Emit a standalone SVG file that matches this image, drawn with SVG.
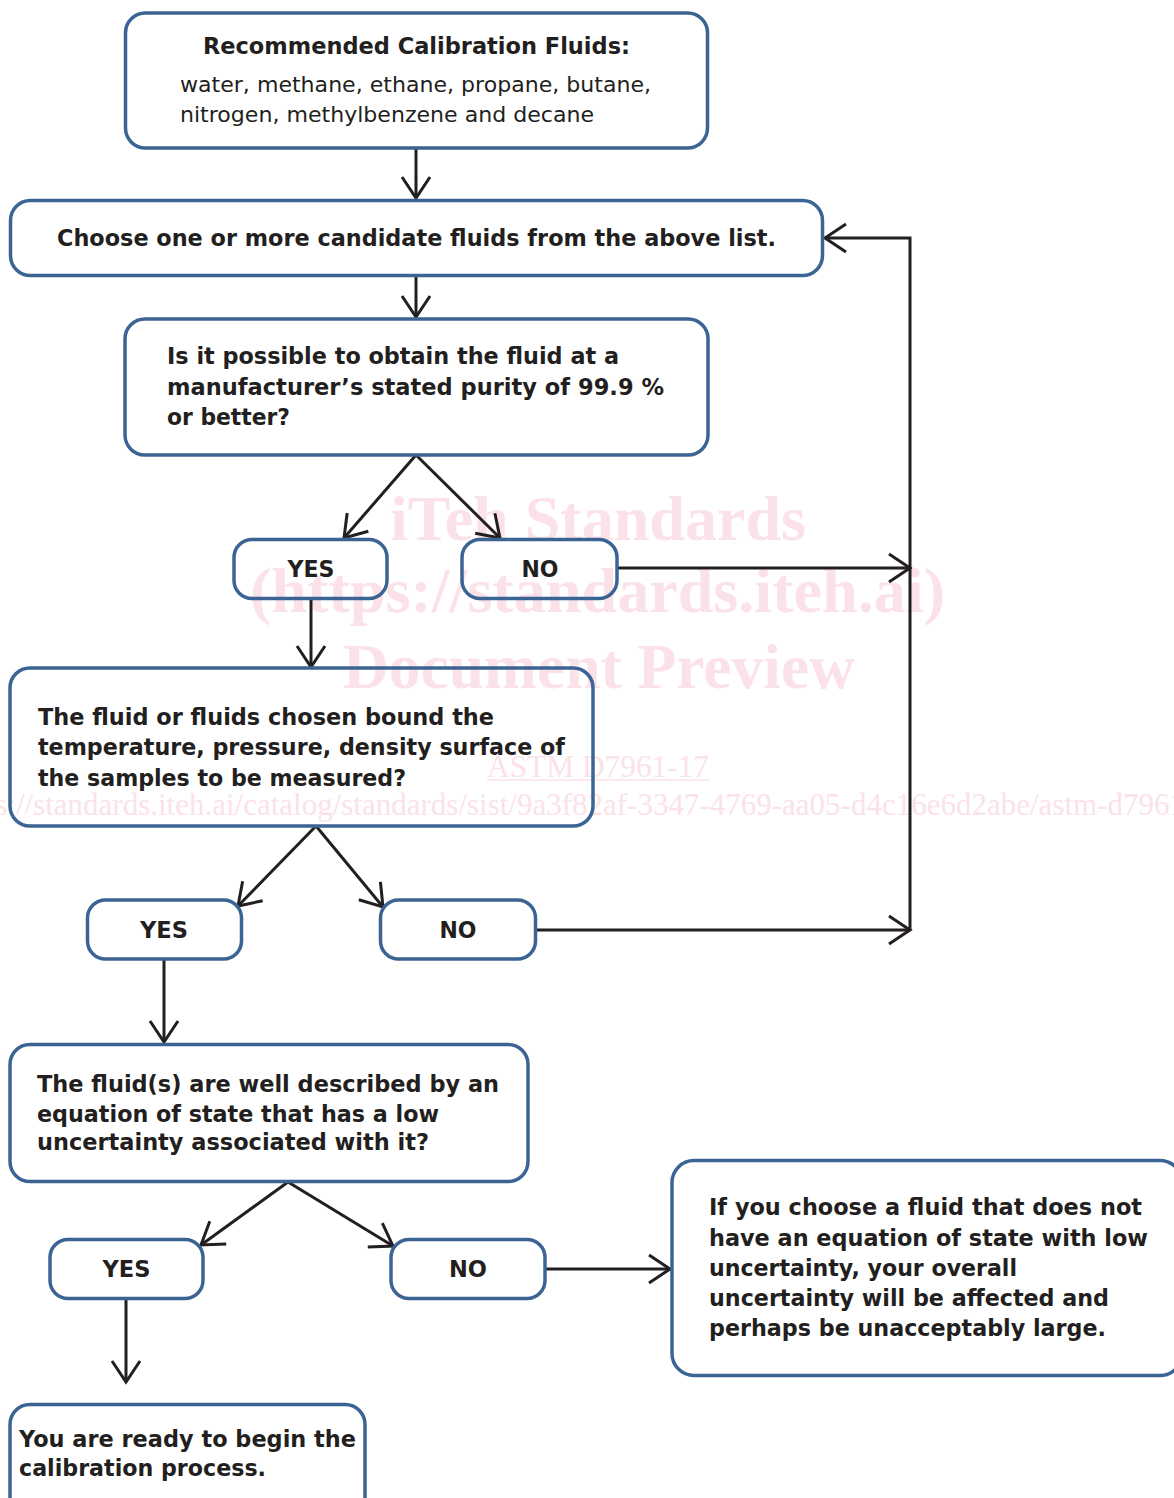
<svg xmlns="http://www.w3.org/2000/svg" width="1174" height="1498" viewBox="0 0 1174 1498">
<defs>
<style>
.box{fill:none;stroke:#3b6494;stroke-width:3.5}
.b{font-family:"DejaVu Sans","Liberation Sans",sans-serif;font-weight:bold;font-size:22.5px;fill:#231f20}
.r{font-family:"DejaVu Sans","Liberation Sans",sans-serif;font-size:22px;fill:#231f20}
.c{text-anchor:middle}
.wm{font-family:"Liberation Serif","DejaVu Serif",serif;fill:#fbe2e9}
.wb{font-weight:bold;font-size:63px}
.wr{font-size:31px}
.ln{fill:none;stroke:#231f20;stroke-width:3;marker-end:url(#ah)}
</style>
<marker id="ah" markerUnits="userSpaceOnUse" markerWidth="30" markerHeight="34" viewBox="-25 -17 28 34" refX="0" refY="0" orient="auto" overflow="visible">
<path d="M-21,-14 L0,0 L-21,14" fill="none" stroke="#231f20" stroke-width="3" stroke-linejoin="miter"/>
</marker>
</defs>
<rect x="0" y="0" width="1174" height="1498" fill="#ffffff"/>
<g id="watermark" class="wm">
<text class="wb" x="390" y="540" textLength="416" lengthAdjust="spacingAndGlyphs">iTeh Standards</text>
<text class="wb" x="250" y="612" textLength="695" lengthAdjust="spacingAndGlyphs">(https://standards.iteh.ai)</text>
<text class="wb" x="343" y="688" textLength="512" lengthAdjust="spacingAndGlyphs">Document Preview</text>
<text class="wr" x="487" y="777" textLength="222" lengthAdjust="spacingAndGlyphs">ASTM D7961-17</text>
<line x1="487" y1="780" x2="709" y2="780" stroke="#fbe2e9" stroke-width="1.5"/>
<text class="wr" x="-53" y="815">https://standards.iteh.ai/catalog/standards/sist/9a3f82af-3347-4769-aa05-d4c16e6d2abe/astm-d7961-17</text>
</g>
<g id="connectors">
<path class="ln" d="M416,149 V198"/>
<path class="ln" d="M416,276 V317"/>
<path class="ln" d="M416,455 L344,538"/>
<path class="ln" d="M416,455 L500,538"/>
<path class="ln" d="M311,599 V667"/>
<path class="ln" d="M617,568 H910"/>
<path class="ln" d="M316,826 L238,906"/>
<path class="ln" d="M316,826 L383,907"/>
<path class="ln" d="M164,959 V1042"/>
<path class="ln" d="M535,930 H910"/>
<path class="ln" d="M910,930 V238 H825"/>
<path class="ln" d="M288,1182 L201,1245"/>
<path class="ln" d="M288,1182 L393,1246"/>
<path class="ln" d="M126,1298 V1382"/>
<path class="ln" d="M545,1269 H670"/>
</g>
<g id="n-fluids">
<rect class="box" x="125.5" y="13" width="582" height="135" rx="20"/>
<text class="b" x="203" y="54" textLength="427" lengthAdjust="spacingAndGlyphs">Recommended Calibration Fluids:</text>
<text class="r" x="180" y="92" textLength="471" lengthAdjust="spacingAndGlyphs">water, methane, ethane, propane, butane,</text>
<text class="r" x="180" y="122" textLength="414" lengthAdjust="spacingAndGlyphs">nitrogen, methylbenzene and decane</text>
</g>
<g id="n-choose">
<rect class="box" x="10.5" y="200.5" width="812" height="75" rx="20"/>
<text class="b" x="57" y="246" textLength="719" lengthAdjust="spacingAndGlyphs">Choose one or more candidate fluids from the above list.</text>
</g>
<g id="n-purity">
<rect class="box" x="125" y="319" width="583" height="136" rx="20"/>
<text class="b" x="167" y="364" textLength="452" lengthAdjust="spacingAndGlyphs">Is it possible to obtain the fluid at a</text>
<text class="b" x="167" y="395" textLength="497" lengthAdjust="spacingAndGlyphs">manufacturer’s stated purity of 99.9 %</text>
<text class="b" x="167" y="425" textLength="123" lengthAdjust="spacingAndGlyphs">or better?</text>
</g>
<g id="n-yes1">
<rect class="box" x="234" y="539.5" width="153" height="59" rx="18"/>
<text class="b c" x="311" y="577" textLength="47" lengthAdjust="spacingAndGlyphs">YES</text>
</g>
<g id="n-no1">
<rect class="box" x="462" y="539.5" width="155" height="59" rx="18"/>
<text class="b c" x="540" y="577" textLength="37" lengthAdjust="spacingAndGlyphs">NO</text>
</g>
<g id="n-bound">
<rect class="box" x="10" y="668" width="583" height="158" rx="20"/>
<text class="b" x="38" y="725" textLength="456" lengthAdjust="spacingAndGlyphs">The fluid or fluids chosen bound the</text>
<text class="b" x="38" y="755" textLength="527" lengthAdjust="spacingAndGlyphs">temperature, pressure, density surface of</text>
<text class="b" x="38" y="786" textLength="368" lengthAdjust="spacingAndGlyphs">the samples to be measured?</text>
</g>
<g id="n-yes2">
<rect class="box" x="87.5" y="900" width="154" height="59" rx="18"/>
<text class="b c" x="164" y="938" textLength="48" lengthAdjust="spacingAndGlyphs">YES</text>
</g>
<g id="n-no2">
<rect class="box" x="380.5" y="900" width="155" height="59" rx="18"/>
<text class="b c" x="458" y="938" textLength="37" lengthAdjust="spacingAndGlyphs">NO</text>
</g>
<g id="n-eos">
<rect class="box" x="10" y="1044.5" width="518" height="137" rx="20"/>
<text class="b" x="37" y="1092" textLength="462" lengthAdjust="spacingAndGlyphs">The fluid(s) are well described by an</text>
<text class="b" x="37" y="1122" textLength="402" lengthAdjust="spacingAndGlyphs">equation of state that has a low</text>
<text class="b" x="37" y="1150" textLength="392" lengthAdjust="spacingAndGlyphs">uncertainty associated with it?</text>
</g>
<g id="n-yes3">
<rect class="box" x="50" y="1239.5" width="153" height="59" rx="18"/>
<text class="b c" x="126.5" y="1277" textLength="48" lengthAdjust="spacingAndGlyphs">YES</text>
</g>
<g id="n-no3">
<rect class="box" x="391" y="1239.5" width="154" height="59" rx="18"/>
<text class="b c" x="468" y="1277" textLength="38" lengthAdjust="spacingAndGlyphs">NO</text>
</g>
<g id="n-warning">
<rect class="box" x="672" y="1160.5" width="510" height="215" rx="22"/>
<text class="b" x="709" y="1215" textLength="433" lengthAdjust="spacingAndGlyphs">If you choose a fluid that does not</text>
<text class="b" x="709" y="1246" textLength="439" lengthAdjust="spacingAndGlyphs">have an equation of state with low</text>
<text class="b" x="709" y="1276" textLength="308" lengthAdjust="spacingAndGlyphs">uncertainty, your overall</text>
<text class="b" x="709" y="1306" textLength="400" lengthAdjust="spacingAndGlyphs">uncertainty will be affected and</text>
<text class="b" x="709" y="1336" textLength="397" lengthAdjust="spacingAndGlyphs">perhaps be unacceptably large.</text>
</g>
<g id="n-ready">
<rect class="box" x="10" y="1404.5" width="355" height="120" rx="20"/>
<text class="b" x="19" y="1447" textLength="337" lengthAdjust="spacingAndGlyphs">You are ready to begin the</text>
<text class="b" x="19" y="1476" textLength="247" lengthAdjust="spacingAndGlyphs">calibration process.</text>
</g>
</svg>
